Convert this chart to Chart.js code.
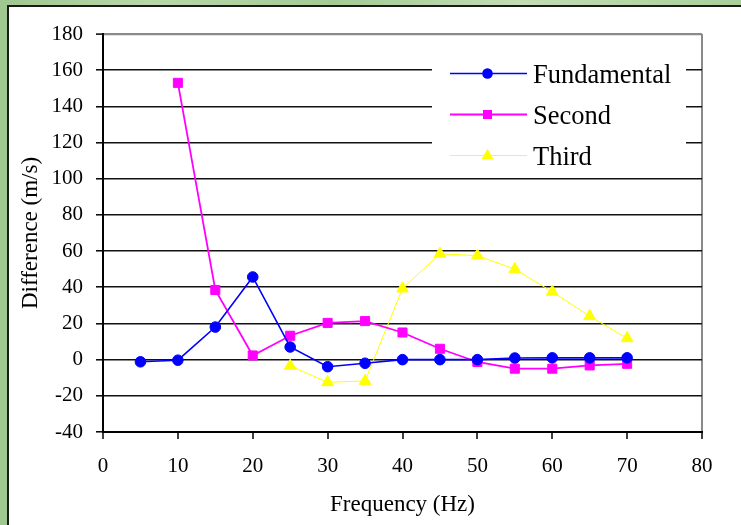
<!DOCTYPE html>
<html>
<head>
<meta charset="utf-8">
<script src="https://cdn.jsdelivr.net/npm/chart.js@4/dist/chart.umd.min.js"></script>
<style>
  html, body { margin: 0; padding: 0; }
  body {
    width: 741px; height: 525px; overflow: hidden; position: relative;
    background: linear-gradient(90deg, #9fc790 0%, #b9d8aa 20%, #a4cb96 45%, #c3ddb5 70%, #a9cf9b 100%);
  }
  #panel {
    position: absolute; left: 7px; top: 5px; width: 760px; height: 540px;
    background: #ffffff; border-left: 2px solid #1a1a1a; border-top: 2px solid #1a1a1a;
  }
  #wrap { position: absolute; left: 0; top: 0; width: 741px; height: 525px; }
</style>
</head>
<body>
<div id="panel"></div>
<div id="wrap"><canvas id="c" width="741" height="525"></canvas></div>
<script>
// ---- data ----
const frequencies = [5, 10, 15, 20, 25, 30, 35, 40, 45, 50, 55, 60, 65, 70];
const fundamental = [-1.2, -0.3, 18, 45.7, 7, -3.9, -2, 0, 0, 0, 0.9, 1, 1, 1];
const second      = [null, 153, 38.5, 2.3, 13.2, 20.3, 21.3, 15, 6, -1.3, -5, -5, -3.2, -2.3];
const third       = [null, null, null, null, -3.5, -12.5, -11.8, 39.3, 58.5, 57.5, 50, 37.5, 24, 11.8];
const seriesNames = ['Fundamental', 'Second', 'Third'];
const xTicks = [0, 10, 20, 30, 40, 50, 60, 70, 80];
const yTicks = [-40, -20, 0, 20, 40, 60, 80, 100, 120, 140, 160, 180];

const toPoints = arr => frequencies.map((f, i) => ({ x: f, y: arr[i] }));

const FONT = 'Liberation Serif, "Times New Roman", Times, serif';

function drawMarker(ctx, style, r, x, y, color) {
  ctx.fillStyle = color;
  ctx.beginPath();
  if (style === 'circle') {
    ctx.arc(x, y, r, 0, Math.PI * 2);
  } else if (style === 'rect') {
    const s = Math.SQRT1_2 * r;
    ctx.rect(x - s, y - s, 2 * s, 2 * s);
  } else if (style === 'triangle') {
    ctx.moveTo(x, y - r);
    ctx.lineTo(x + r * Math.cos(Math.PI / 6), y + r * 0.5);
    ctx.lineTo(x - r * Math.cos(Math.PI / 6), y + r * 0.5);
    ctx.closePath();
  }
  ctx.fill();
}

const legendPlugin = {
  id: 'boxLegend',
  afterDatasetsDraw(chart) {
    const ctx = chart.ctx;
    ctx.save();
    ctx.fillStyle = '#ffffff';
    ctx.fillRect(432, 50, 254, 124);
    chart.data.datasets.forEach((ds, i) => {
      const y = 73.5 + i * 41;
      ctx.strokeStyle = ds.borderColor;
      ctx.lineWidth = ds.borderWidth;
      ctx.beginPath();
      ctx.moveTo(450, y);
      ctx.lineTo(527, y);
      ctx.stroke();
      drawMarker(ctx, ds.pointStyle, ds.pointRadius, 487.5, y, ds.pointBackgroundColor);
      ctx.fillStyle = '#000000';
      ctx.font = '26.5px ' + FONT;
      ctx.textAlign = 'left';
      ctx.textBaseline = 'alphabetic';
      ctx.fillText(ds.label, 533, y + 9.5);
    });
    ctx.restore();
  }
};

new Chart(document.getElementById('c'), {
  type: 'line',
  data: {
    datasets: [
      {
        label: seriesNames[0], data: toPoints(fundamental),
        borderColor: '#0000ff', backgroundColor: '#0000ff',
        pointBackgroundColor: '#0000ff', pointBorderColor: '#0000ff',
        borderWidth: 1.6, pointStyle: 'circle', pointRadius: 5.3, pointBorderWidth: 1,
        tension: 0, spanGaps: false
      },
      {
        label: seriesNames[1], data: toPoints(second),
        borderColor: '#ff00ff', backgroundColor: '#ff00ff',
        pointBackgroundColor: '#ff00ff', pointBorderColor: '#ff00ff',
        borderWidth: 1.8, pointStyle: 'rect', pointRadius: 6.4, pointBorderWidth: 1,
        tension: 0, spanGaps: false
      },
      {
        label: seriesNames[2], data: toPoints(third),
        borderColor: '#ffff00', backgroundColor: '#ffff00',
        pointBackgroundColor: '#ffff00', pointBorderColor: '#ffff00',
        borderWidth: 1, pointStyle: 'triangle', pointRadius: 6.8, pointBorderWidth: 1,
        tension: 0, spanGaps: false
      }
    ]
  },
  options: {
    responsive: false,
    animation: false,
    devicePixelRatio: 1,
    layout: { padding: { left: 0, top: 34, right: 39, bottom: 0 } },
    plugins: { legend: { display: false }, tooltip: { enabled: false } },
    scales: {
      x: {
        type: 'linear', min: 0, max: 80,
        afterBuildTicks: s => { s.ticks = xTicks.map(v => ({ value: v })); },
        afterFit: s => { s.height = 93; },
        grid: {
          drawOnChartArea: true,
          color: c => (c.tick && c.tick.value === 80) ? '#8a8a8a' : 'rgba(0,0,0,0)',
          lineWidth: 2,
          tickColor: '#000000', tickWidth: 1.5, tickLength: 7
        },
        border: { display: true, color: '#000000', width: 2 },
        ticks: { color: '#000000', font: { family: FONT, size: 21 }, padding: 15, maxRotation: 0 },
        title: {
          display: true, text: 'Frequency (Hz)', color: '#000000',
          font: { family: FONT, size: 23 }, padding: { top: 0, bottom: 6 }
        }
      },
      y: {
        type: 'linear', min: -40, max: 180,
        afterBuildTicks: s => { s.ticks = yTicks.map(v => ({ value: v })); },
        afterFit: s => { s.width = 103; },
        grid: {
          color: c => (c.tick && c.tick.value === 180) ? '#8a8a8a' : '#111111',
          lineWidth: c => (c.tick && c.tick.value === 180) ? 2.2 : 1.6,
          tickColor: '#000000', tickWidth: 1.5, tickLength: 7
        },
        border: { display: true, color: '#000000', width: 2 },
        ticks: { color: '#000000', font: { family: FONT, size: 21 }, padding: 13 },
        title: {
          display: true, text: 'Difference (m/s)', color: '#000000',
          font: { family: FONT, size: 23 }, padding: { top: 17, bottom: 0 }
        }
      }
    }
  },
  plugins: [legendPlugin]
});
</script>
</body>
</html>
